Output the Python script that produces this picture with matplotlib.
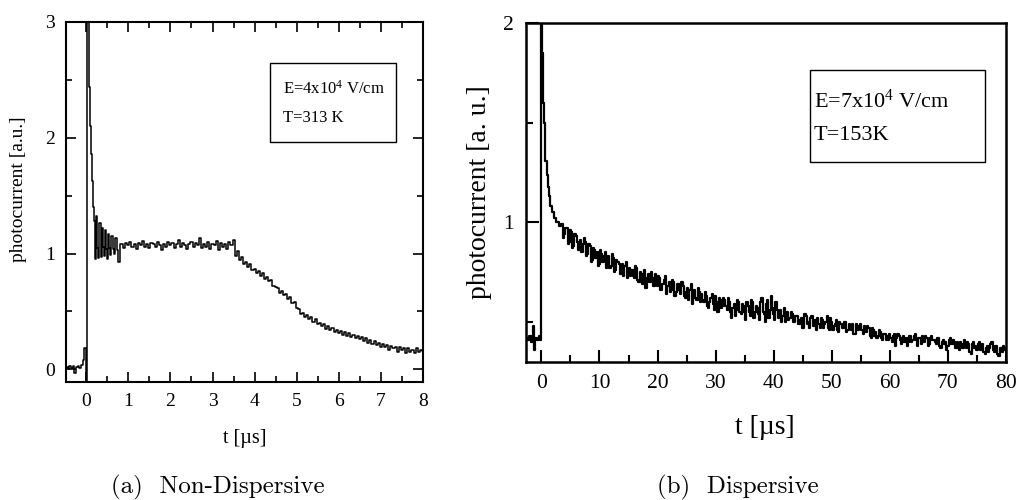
import numpy as np
import matplotlib
matplotlib.use("Agg")
import matplotlib.pyplot as plt
from matplotlib.patches import Rectangle
from matplotlib.ticker import MultipleLocator

plt.rcParams['font.family'] = ['Liberation Serif', 'DejaVu Serif']
plt.rcParams['mathtext.fontset'] = 'custom'
plt.rcParams['mathtext.rm'] = 'Liberation Serif'
plt.rcParams['mathtext.it'] = 'Liberation Serif:italic'

# ---------------- Panel (a): non-dispersive ----------------
t_a_early = [-0.46, -0.42, -0.38, -0.34, -0.30, -0.26, -0.22, -0.18, -0.14, -0.10,
             -0.06, -0.03, 0.00, 0.03, 0.06, 0.09, 0.11, 0.13, 0.15, 0.17, 0.20,
             0.23, 0.25, 0.28, 0.30, 0.33, 0.35, 0.37, 0.39, 0.41, 0.43, 0.46,
             0.48, 0.51, 0.54, 0.56, 0.58, 0.62, 0.64, 0.66, 0.71, 0.74, 0.78, 0.81]
v_a_early = [0.02, 0.00, 0.03, 0.01, 0.03, -0.03, 0.02, 0.03, 0.01, 0.04,
             0.08, 0.18, -0.10, 3.30, 3.10, 2.44, 2.10, 1.86, 1.63, 1.40, 1.28,
             0.95, 1.32, 1.05, 0.96, 1.26, 1.05, 0.97, 1.22, 1.06, 0.98, 1.20,
             1.04, 0.95, 1.17, 1.05, 0.99, 1.15, 1.04, 1.00, 1.13, 1.03, 0.93, 1.08]
t_a_start = 0.85
t_a_step = 0.05
v_a_main = [
    1.08, 1.05, 1.09, 1.07, 1.10, 1.06, 1.08, 1.04, 1.09, 1.07,
    1.11, 1.06, 1.08, 1.05, 1.09, 1.08, 1.06, 1.10, 1.07, 1.03,
    1.08, 1.06, 1.10, 1.07, 1.09, 1.05, 1.08, 1.12, 1.06, 1.09,
    1.07, 1.04, 1.08, 1.10, 1.06, 1.09, 1.07, 1.13, 1.05, 1.08,
    1.06, 1.10, 1.04, 1.08, 1.07, 1.11, 1.03, 1.09, 1.06, 1.08,
    1.04, 1.10, 1.07, 1.12,
    0.98, 1.02, 0.94, 0.97, 0.91, 0.93, 0.88, 0.91, 0.86, 0.87,
    0.83, 0.85, 0.81, 0.83, 0.78, 0.80, 0.76, 0.77, 0.72, 0.71,
    0.70, 0.66, 0.68, 0.64, 0.65, 0.61, 0.62, 0.57, 0.58, 0.53,
    0.52, 0.48, 0.49, 0.45, 0.47, 0.43, 0.45, 0.41, 0.43, 0.39,
    0.40, 0.37, 0.39, 0.35, 0.37, 0.34, 0.36, 0.32, 0.34, 0.31,
    0.33, 0.30, 0.32, 0.29, 0.31, 0.28, 0.30, 0.27, 0.29, 0.26,
    0.28, 0.24, 0.27, 0.23, 0.25, 0.22, 0.24, 0.21, 0.23, 0.19,
    0.22, 0.19, 0.21, 0.17, 0.20, 0.18, 0.19, 0.15, 0.19, 0.17,
    0.18, 0.14, 0.18, 0.15, 0.17, 0.14, 0.18, 0.15, 0.17, 0.16,
]

# ---------------- Panel (b): dispersive ----------------
t_b_early = [-2.5, -2.2, -1.9, -1.6, -1.4, -1.2, -0.9, -0.6, -0.3, -0.05,
             0.0, 0.1, 0.2, 0.3, 0.4, 0.5, 0.6, 0.8, 1.0, 1.2, 1.4, 1.7,
             2.0, 2.4, 2.8, 3.2]
v_b_early = [0.42, 0.41, 0.43, 0.40, 0.48, 0.36, 0.42, 0.41, 0.43, 0.41,
             2.30, 2.10, 1.85, 1.72, 1.60, 1.50, 1.42, 1.31, 1.24, 1.18, 1.13, 1.08,
             1.05, 1.02, 1.00, 0.98]
t_b_start = 3.6
t_b_step = 0.4
# samples at t_b_start + 0.4*i
v_b_main = [
    0.99, 0.94, 0.97, 0.90, 0.95, 0.88, 0.93, 0.86, 0.91, 0.89,
    0.90, 0.84, 0.88, 0.81, 0.86, 0.85, 0.79, 0.84, 0.83, 0.77,
    0.83, 0.78, 0.82, 0.76, 0.80, 0.74, 0.79, 0.78, 0.72, 0.77,
    0.76, 0.72, 0.77, 0.70, 0.74, 0.73, 0.67, 0.74, 0.70, 0.72,
    0.74, 0.68, 0.72, 0.69, 0.71, 0.64, 0.70, 0.66, 0.70, 0.65,
    0.69, 0.64, 0.68, 0.62, 0.67, 0.66, 0.59, 0.66, 0.61, 0.65,
    0.64, 0.60, 0.63, 0.57, 0.62, 0.59, 0.63, 0.55, 0.61, 0.58,
    0.61, 0.56, 0.60, 0.52, 0.59, 0.56, 0.60, 0.54, 0.58, 0.51,
    0.58, 0.53, 0.60, 0.55, 0.57, 0.51, 0.62, 0.54, 0.59, 0.52,
    0.63, 0.54, 0.60, 0.52, 0.56, 0.53, 0.50, 0.55, 0.52, 0.54,
    0.50, 0.53, 0.49, 0.52, 0.47, 0.53, 0.50, 0.52, 0.48, 0.51,
    0.52, 0.47, 0.51, 0.49, 0.53, 0.46, 0.50, 0.48, 0.51, 0.45,
    0.49, 0.47, 0.50, 0.46, 0.48, 0.49, 0.44, 0.48, 0.47, 0.46,
    0.48, 0.45, 0.47, 0.42, 0.46, 0.45, 0.43, 0.45, 0.41, 0.44,
    0.43, 0.44, 0.40, 0.44, 0.42, 0.43, 0.39, 0.43, 0.42, 0.40,
    0.43, 0.41, 0.44, 0.38, 0.42, 0.43, 0.40, 0.42, 0.39, 0.43,
    0.41, 0.39, 0.42, 0.37, 0.41, 0.40, 0.38, 0.42, 0.39, 0.40,
    0.40, 0.36, 0.39, 0.41, 0.37, 0.39, 0.34, 0.40, 0.38, 0.39,
    0.36, 0.39, 0.34, 0.38, 0.37, 0.40, 0.35, 0.38, 0.33, 0.37,
    0.38, 0.36,
]
# samples half-way between, at t_b_start + 0.2 + 0.4*i
v_b_mid = [
    0.92, 0.97, 0.89, 0.96, 0.87, 0.94, 0.90, 0.89, 0.85, 0.92,
    0.83, 0.89, 0.80, 0.87, 0.82, 0.78, 0.86, 0.80, 0.85, 0.82,
    0.77, 0.84, 0.75, 0.81, 0.79, 0.76, 0.73, 0.80, 0.76, 0.73,
    0.73, 0.78, 0.71, 0.75, 0.69, 0.76, 0.72, 0.70, 0.75, 0.68,
    0.70, 0.73, 0.66, 0.69, 0.73, 0.68, 0.65, 0.71, 0.63, 0.69,
    0.66, 0.70, 0.63, 0.65, 0.61, 0.69, 0.63, 0.62, 0.67, 0.60,
    0.61, 0.65, 0.58, 0.60, 0.64, 0.56, 0.60, 0.62, 0.57, 0.62,
    0.58, 0.62, 0.55, 0.57, 0.53, 0.61, 0.55, 0.59, 0.55, 0.60,
    0.55, 0.61, 0.52, 0.58, 0.54, 0.60, 0.55, 0.50, 0.61, 0.56,
    0.57, 0.51, 0.56, 0.55, 0.50, 0.57, 0.53, 0.51, 0.55, 0.50,
    0.53, 0.49, 0.51, 0.47, 0.54, 0.49, 0.47, 0.53, 0.50, 0.46,
    0.49, 0.52, 0.47, 0.50, 0.47, 0.52, 0.46, 0.49, 0.46, 0.50,
    0.47, 0.50, 0.45, 0.49, 0.46, 0.44, 0.49, 0.46, 0.49, 0.44,
    0.46, 0.48, 0.43, 0.47, 0.43, 0.42, 0.46, 0.42, 0.44, 0.41,
    0.41, 0.42, 0.43, 0.38, 0.44, 0.41, 0.42, 0.40, 0.38, 0.43,
    0.40, 0.43, 0.41, 0.42, 0.39, 0.41, 0.43, 0.38, 0.42, 0.41,
    0.40, 0.42, 0.38, 0.40, 0.39, 0.36, 0.41, 0.39, 0.41, 0.37,
    0.38, 0.40, 0.37, 0.38, 0.40, 0.35, 0.39, 0.37, 0.36, 0.40,
    0.38, 0.35, 0.37, 0.35, 0.39, 0.36, 0.38, 0.34, 0.37, 0.35,
    0.37, 0.36,
]

x_ticks_a = [0, 1, 2, 3, 4, 5, 6, 7, 8]
y_ticks_a = [0, 1, 2, 3]
x_ticks_b = [0, 10, 20, 30, 40, 50, 60, 70, 80]
y_ticks_b = [1, 2]

W, H = 1024, 500
fig = plt.figure(figsize=(W / 100, H / 100), dpi=100)

def fx(px):
    return px / W

def fy(py):
    return 1 - py / H

# ---- panel (a)
ax1 = fig.add_axes([fx(66), fy(382), fx(423 - 66), (382 - 22) / H])
t_a = np.concatenate([t_a_early, t_a_start + t_a_step * np.arange(len(v_a_main))])
v_a = np.concatenate([v_a_early, v_a_main])
ax1.plot(t_a, v_a, color='black', lw=1.1, drawstyle='steps-mid')
ax1.set_xlim(-0.48, 8.0)
ax1.set_ylim(-0.11, 3.0)
ax1.set_xticks(x_ticks_a)
ax1.set_yticks(y_ticks_a)
ax1.xaxis.set_minor_locator(MultipleLocator(0.5))
ax1.yaxis.set_minor_locator(MultipleLocator(0.5))
ax1.tick_params(which='both', direction='in', top=True, right=True, labelsize=14, width=1.2)
ax1.tick_params(which='major', length=7, pad=8)
ax1.tick_params(which='minor', length=4)
for s in ax1.spines.values():
    s.set_linewidth(1.5)

fig.add_artist(Rectangle((fx(270), fy(142)), fx(396 - 270), (142 - 63) / H,
                         transform=fig.transFigure, fill=False, lw=1.0, ec='black'))
fig.text(fx(283), fy(89), r'E=4x10$^{\mathrm{4}}$ V/cm', fontsize=12, va='center', ha='left')
fig.text(fx(283), fy(118), 'T=313 K', fontsize=12, va='center', ha='left')

fig.text(fx(19), fy(189), 'photocurrent [a.u.]', rotation=90, fontsize=14,
         ha='center', va='center')
fig.text(fx(245), fy(438), 't [µs]', fontsize=14.5, ha='center', va='center')

# ---- panel (b)
ax2 = fig.add_axes([fx(526), fy(362), fx(1006 - 526), (362 - 23) / H])
n_b = len(v_b_main)
t_b_grid = t_b_start + t_b_step * np.arange(n_b)
t_b_main = np.column_stack([t_b_grid, t_b_grid + t_b_step / 2]).ravel()
v_b_pair = np.column_stack([v_b_main, v_b_mid]).ravel()
t_b = np.concatenate([t_b_early, t_b_main])
v_b = np.concatenate([v_b_early, v_b_pair])
ax2.plot(t_b, v_b, color='black', lw=1.6, drawstyle='steps-mid')
ax2.set_xlim(-2.65, 80.0)
ax2.set_ylim(0.30, 2.0)
ax2.set_xticks(x_ticks_b)
ax2.set_yticks(y_ticks_b)
ax2.xaxis.set_minor_locator(MultipleLocator(5))
ax2.yaxis.set_minor_locator(MultipleLocator(0.5))
ax2.tick_params(which='both', direction='in', top=False, right=False, labelsize=15.5, width=1.5)
ax2.tick_params(which='major', length=9, pad=9)
ax2.tick_params(which='minor', length=5)
for s in ax2.spines.values():
    s.set_linewidth(1.8)

fig.add_artist(Rectangle((fx(810), fy(162)), fx(985 - 810), (162 - 70) / H,
                         transform=fig.transFigure, fill=False, lw=1.0, ec='black'))
fig.text(fx(814), fy(101), r'E=7x10$^{\mathrm{4}}$ V/cm', fontsize=16, va='center', ha='left')
fig.text(fx(814), fy(135), 'T=153K', fontsize=16, va='center', ha='left')

fig.text(fx(480), fy(192), 'photocurrent [a. u.]', rotation=90, fontsize=20,
         ha='center', va='center')
fig.text(fx(765), fy(428), 't [µs]', fontsize=20, ha='center', va='center')

# ---- subcaptions
fig.text(fx(218), fy(487), '(a)  Non-Dispersive', family='cmr10', fontsize=18,
         ha='center', va='center')
fig.text(fx(738), fy(487), '(b)  Dispersive', family='cmr10', fontsize=18,
         ha='center', va='center')

fig.savefig('out.png', dpi=100)
